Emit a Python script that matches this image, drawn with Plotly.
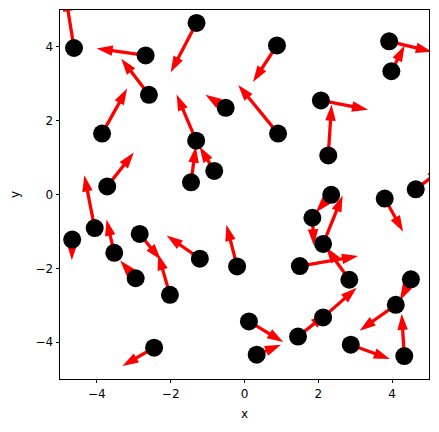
import math
import plotly.graph_objects as go

# point positions
x = [-4.62, -2.68, -1.30, -2.59, -0.51, -3.86, -1.31, -0.82, -1.45, -3.72,
     -4.67, -4.06, -3.53, -2.84, -2.95, -2.02, -1.21, -0.20, -2.45,
     0.88, 0.91, 2.07, 2.27, 3.92, 3.98, 4.64, 3.80, 2.35, 1.84,
     2.13, 1.50, 2.84, 4.51, 0.12, 0.33, 1.45, 2.13, 2.88, 4.10, 4.33]
y = [3.97, 3.77, 4.65, 2.70, 2.35, 1.65, 1.46, 0.64, 0.33, 0.22,
     -1.22, -0.91, -1.58, -1.07, -2.27, -2.72, -1.74, -1.95, -4.15,
     4.04, 1.65, 2.55, 1.06, 4.15, 3.34, 0.14, -0.11, -0.01, -0.63,
     -1.34, -1.94, -2.31, -2.30, -3.44, -4.34, -3.85, -3.33, -4.07, -2.99, -4.38]
# arrow vectors
u = [-0.23, -1.33, -0.70, -0.75, -0.55, 0.68, -0.53, -0.40, 0.13, 0.72,
     -0.01, -0.28, -0.21, 0.57, -0.42, -0.32, -0.90, -0.29, -0.86,
     -0.65, -1.08, 1.28, 0.09, 1.16, 0.36, 0.75, 0.50, -0.42, 0.04,
     0.53, 1.58, -0.63, -0.30, 0.93, 0.66, 0.78, 0.91, 1.06, -0.98, -0.07]
v = [1.43, 0.19, -1.34, 0.98, 0.35, 1.22, 1.25, 0.66, 0.97, 0.92,
     -0.56, 1.43, 0.90, -0.70, 0.48, 1.11, 0.63, 1.13, -0.50,
     -0.99, 1.32, -0.25, 1.38, -0.28, 0.70, 0.58, -0.90, -0.48, -0.75,
     1.31, 0.27, 0.88, -0.57, -0.56, 0.27, 0.62, 0.80, -0.39, -0.70, 1.15]

tick_vals = [-4, -2, 0, 2, 4]

HEAD_BACK = 0.38  # shaft stops where the head begins (data units)

sx, sy, hx, hy, ang = [], [], [], [], []
for xi, yi, ui, vi in zip(x, y, u, v):
    L = math.hypot(ui, vi)
    tx, ty = xi + ui, yi + vi
    ex, ey = tx - ui / L * HEAD_BACK, ty - vi / L * HEAD_BACK
    sx += [xi, ex, None]
    sy += [yi, ey, None]
    hx.append(tx)
    hy.append(ty)
    ang.append(math.degrees(math.atan2(ui, vi)))

fig = go.Figure()
fig.add_trace(go.Scatter(x=sx, y=sy, mode="lines",
                         line=dict(color="#ff0000", width=3.3),
                         hoverinfo="skip"))
fig.add_trace(go.Scatter(x=hx, y=hy, mode="markers",
                         marker=dict(symbol="arrow", size=17, angle=ang,
                                     color="#ff0000", line=dict(width=0)),
                         cliponaxis=True, hoverinfo="skip"))
fig.add_trace(go.Scatter(x=x, y=y, mode="markers",
                         marker=dict(size=18, color="black", line=dict(width=0)),
                         cliponaxis=True))

FONT = dict(family="DejaVu Sans", size=12, color="black")

axis_common = dict(range=[-5, 5], tickvals=tick_vals, ticks="outside",
                   ticklen=3.5, tickwidth=0.8, tickcolor="black",
                   showline=True, mirror=True, linecolor="black", linewidth=0.8,
                   showgrid=False, zeroline=False, automargin=False,
                   tickfont=FONT)

fig.update_layout(
    width=423, height=416,
    margin=dict(l=52, r=2, t=2, b=45),
    plot_bgcolor="white", paper_bgcolor="white",
    showlegend=False,
    font=FONT,
    xaxis=dict(**axis_common, title=dict(text="x", standoff=9, font=FONT)),
    yaxis=dict(**axis_common, title=dict(text="y", standoff=14, font=FONT)),
)

fig.write_html("out.html")
